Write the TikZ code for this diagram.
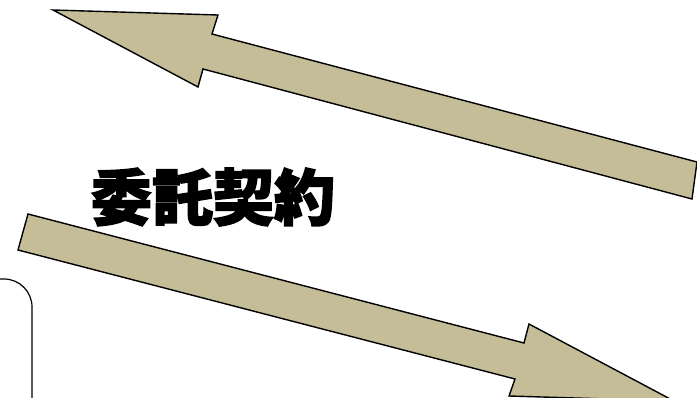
\documentclass[tikz,border=0pt]{standalone}
\usepackage{fontspec}
\newfontfamily\cjk{Noto Sans CJK JP}[BoldFeatures={FakeBold=2.5}]
\tikzset{
  blockarrow/.style={draw=black, line width=1.4pt, fill=tan, line join=miter},
  panel/.style={draw=black, line width=1.2pt, rounded corners=28pt},
  title/.style={font=\cjk\bfseries\fontsize{61}{61}\selectfont, text=black, inner sep=0pt}
}
\definecolor{tan}{HTML}{C4BD97}
\begin{document}
\begin{tikzpicture}[x=1pt,y=-1pt]
\useasboundingbox (0,0) rectangle (697,398);
\clip (0,0) rectangle (697,398);
% top arrow (pointing up-left)
\draw[blockarrow] (53,10) -- (218,15) -- (212,34) -- (697,162) -- (692,199) -- (203,69) -- (198,87) -- cycle;
% bottom arrow (pointing down-right)
\draw[blockarrow] (28,214) -- (524,343) -- (529,324) -- (674,401) -- (509,396) -- (515,379) -- (18,250) -- cycle;
% title
\node[title] (t) at (213,197) {委託契約};
% partially visible panel
\draw[panel] (-60,279) rectangle (32,460);
\end{tikzpicture}
\end{document}
